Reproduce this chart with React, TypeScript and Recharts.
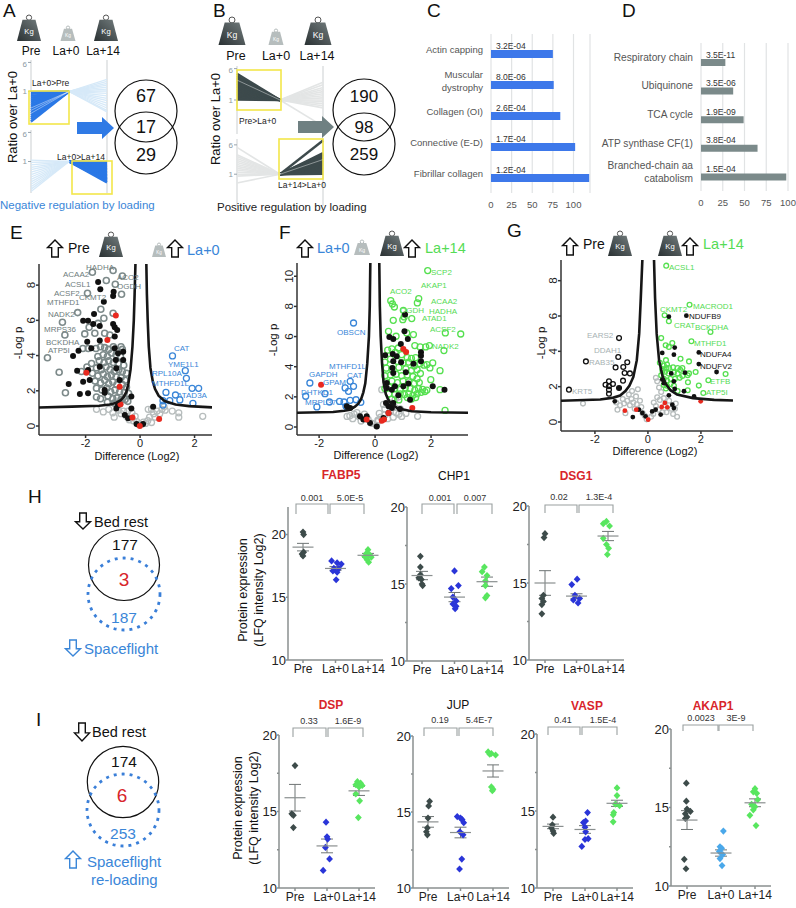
import {
  Bar,
  BarChart,
  CartesianGrid,
  ErrorBar,
  Line,
  LineChart,
  Scatter,
  ScatterChart,
  XAxis,
  YAxis,
} from "recharts";

const FONT = "'Liberation Sans', Arial, sans-serif";
const timepoints = ["Pre", "La+0", "La+14"];

// panels A, B: ratio lines
const a1Pre = [-0.1, -0.5, -0.9, -1.3, -1.7, -2.1, -2.5, -2.9, -3.3, -3.7, -4.1, -4.5, -4.9, -5.3, -5.7, -6.2];
const a1Late = [2.5, 2.1, 1.7, 1.3, 0.9, 0.5, 0.1, -0.4, -0.9, -1.4, -1.9, -2.4, -2.9, -3.4, -3.9, -4.2];
const a1PreHi = [-3.4, -3.9, -4.5];
const a2Pre = [0.3, -0.2, -0.7, -1.2, -1.7, -2.2, -2.7, -3.2, -3.7, -4.2, -4.7, -5.2, -5.7, -6.2];
const a2Late = [-0.1, -0.4, -0.7, -1, -1.3, -1.6, -1.9, -2.2, -2.5, -2.8, -3.1, -3.4, -3.7, -4, -4.3];
const b1Pre = [0.1, 0.4, 0.7, 1, 1.3, 1.6, 1.9, 2.2, 2.5, 2.8, 3.1, 3.4, 3.7, 4, 4.3, 4.6, 5];
const b1Late = [3.4, 2.9, 2.4, 2, 1.6, 1.2, 0.8, 0.4, 0, -0.3, -0.7, -1.1, -1.5, -5];
const b1PreHi = [3.8];
const b2Pre = [5.5, 4, 3.6, 3.2, 2.8, 2.4, 2, 1.6, 1.2, 0.8, 0.4, 0, -0.4, -1.8];
const b2Late = [6.9, 4.3, 4, 3.7, 3.4, 3.1, 2.8, 2.5, 2.2, 1.9, 1.6, 1.3, 1, 0.7, 0.4, 0.1];
const b2LateHi = [3];

// panels C, D: enrichment
const cTerms = ["Actin capping", "Muscular\ndystrophy", "Collagen (OI)", "Connective (E-D)", "Fibrillar collagen"];
const cScores = [75, 76, 84, 102, 119];
const cPvals = ["3.2E-04", "8.0E-06", "2.6E-04", "1.7E-04", "1.2E-04"];
const dTerms = ["Respiratory chain", "Ubiquinone", "TCA cycle", "ATP synthase CF(1)", "Branched-chain aa\ncatabolism"];
const dScores = [28, 37, 49, 65, 98];
const dPvals = ["3.5E-11", "3.5E-06", "1.9E-09", "3.8E-04", "1.5E-04"];
const enrichTicks = [0, 25, 50, 75, 100];

// panel E: volcano
const eBlack = [[-1.54,8.18],[-1.46,7.77],[-0.97,7.63],[-0.99,7.39],[-1.33,7.05],[-1.69,6.36],[-2.09,5.98],[-1.91,5.98],[-1.72,5.8],[-1.48,5.68],[-0.99,5.8],[-0.93,5.61],[-0.84,5.45],[-0.93,5.08],[-1.94,4.79],[-1.48,4.85],[-1.79,4.41],[-2.26,4.28],[-0.93,4.41],[-0.62,4.22],[-0.81,4.13],[-2.46,3.98],[-0.89,3.75],[-2.31,3.14],[-0.87,3.28],[-0.62,3.75],[-1.91,3.18],[-1.48,3.37],[-1.85,2.61],[-2.09,2.52],[-2.62,2.39],[-2.21,1.82],[-1.91,1.86],[-1.3,2.05],[-1.3,1.89],[-0.75,2.61],[-0.32,1.67],[-0.81,1.19],[-0.56,0.63],[-0.32,1],[-0.87,1],[0.48,1.1],[-0.13,0.11],[0.11,0.11],[-0.44,0.44]];
const eRed = [[-0.89,6.27],[-1.2,4.89],[-1.97,3.03],[-0.75,2.23],[-0.72,1.23],[-0.28,0.49],[-0.01,0],[0.7,0.4]];
const eGray = [[-1.75,8.73],[-0.99,8.83],[-0.65,8.52],[-1.24,8.26],[-0.91,8.05],[-0.68,7.48],[-1.93,7.54],[-2.29,6.44],[-1.44,6.63],[-0.99,6.4],[-2.85,5.89],[-1.33,6.12],[-1.87,5.61],[-1.54,5.83],[-2.76,5.17],[-2.03,5.23],[-1.66,5.27],[-1.3,5.27],[-1.11,5.17],[-3.4,3.88],[-2.97,3.05],[-2.74,1.89],[-1.62,4.4],[-1.45,4.5],[-1.3,4.45],[-1.15,4.35],[-0.98,4.5],[-0.7,4.5],[-0.65,4.35],[-1.55,3.95],[-1.35,4.05],[-1.2,3.95],[-1.05,4.15],[-0.88,4.05],[-0.72,3.95],[-1.78,3.55],[-1.5,3.7],[-1.32,3.6],[-1.15,3.7],[-0.98,3.6],[-0.8,3.55],[-0.6,3.45],[-2.15,3.1],[-1.95,3.35],[-1.6,3.3],[-1.42,3.2],[-1.25,3.35],[-1.1,3.2],[-0.95,3.1],[-0.78,3.2],[-0.65,3.1],[-0.5,3],[-1.75,3],[-1.55,2.85],[-1.35,2.95],[-1.2,2.8],[-1.05,2.9],[-0.88,2.8],[-0.7,2.75],[-0.55,2.6],[-1.65,2.55],[-1.45,2.45],[-1.3,2.6],[-1.15,2.4],[-1,2.5],[-0.85,2.35],[-0.65,2.35],[-0.5,2.2],[-1.6,2.15],[-1.4,2.05],[-1.22,2.15],[-1.08,1.95],[-0.92,2.05],[-0.75,1.95],[-0.58,1.9],[-0.42,1.85],[-1.6,1.65],[-1.45,1.55],[-1.18,1.7],[-1,1.55],[-0.85,1.6],[-0.7,1.5],[-0.55,1.5],[-0.45,1.4],[-1.2,1.35],[-0.95,1.3],[-0.75,1.25],[-2.1,4.4],[-1.9,4.4]];
const eLight = [[-1.6,0.95],[-1.35,0.8],[-1.15,0.95],[-1,0.75],[-0.95,0.5],[-0.8,0.9],[-0.7,0.7],[-0.6,0.85],[-0.5,0.55],[-0.45,0.85],[-0.4,0.35],[-0.3,0.75],[-0.25,0.3],[-0.18,0.55],[-0.12,0.25],[-0.06,0.1],[0.05,0.08],[0.12,0.22],[0.2,0.15],[0.28,0.3],[0.35,0.5],[0.42,0.2],[0.5,0.7],[0.55,0.5],[0.62,0.85],[0.72,0.7],[0.8,0.95],[0.88,1.1],[0.92,0.9],[1.18,0.85],[1.42,0.75],[1.42,0.5],[2.3,0.55],[0.3,0.95],[0.42,0.95]];
const eBlue = [[1.19,3.98],[1.66,3.14],[1.7,2.71],[1.91,2.14],[2.15,2.14],[0.95,1.91],[1.3,1.76],[1.46,1.48],[1.94,1.29],[0.84,1.44],[1.09,1.44],[0.84,1.19]];
const eCurveL = [[-3.71,1.05],[-2.5,1.1],[-1.5,1.15],[-1.1,1.22],[-0.9,1.3],[-0.72,1.45],[-0.6,1.65],[-0.5,1.95],[-0.43,2.4],[-0.35,3.2],[-0.28,4.5],[-0.23,6],[-0.2,7.5],[-0.17,9.2]];
const eCurveR = [[0.23,9.2],[0.25,7.5],[0.28,6],[0.32,4.5],[0.38,3.3],[0.47,2.5],[0.55,2.1],[0.68,1.72],[0.9,1.42],[1.3,1.22],[1.8,1.13],[2.64,1.06]];

// panel F: volcano
const fGreen = [[1.88,10.38],[0.56,8.38],[1.56,8.52],[0.62,8.16],[1.51,8.23],[0.69,7.96],[1.01,7.74],[0.65,7.08],[0.99,7.12],[1.31,7.19],[1.04,7.3],[0.48,6.35],[0.75,6.02],[1.13,6.24],[1.37,6.13],[2.51,6.24],[3.06,6.17],[1.42,5.4],[1.61,5.31],[1.81,5.31],[1.94,5.4],[2.46,5.07],[0.6,5.18],[0.83,5.24],[2.06,4.25],[1.85,4.14],[1.96,3.92],[2.32,3.74],[1.99,3.14],[2.32,2.48],[2.5,1.1],[0.45,5.1],[0.72,4.95],[0.95,4.8],[1.15,4.6],[1.3,4.55],[1.45,4.6],[1.6,4.2],[1.75,4.1],[0.35,4.3],[0.55,4.5],[0.8,4.35],[1,4.25],[1.2,4.3],[1.4,4.05],[0.4,3.9],[0.6,3.85],[0.85,3.95],[1.1,3.85],[1.3,3.75],[1.5,3.8],[1.62,3.55],[0.35,3.4],[0.55,3.45],[0.75,3.5],[0.95,3.4],[1.15,3.45],[1.35,3.35],[1.5,3.2],[0.4,3],[0.6,3.05],[0.8,2.95],[1,3.05],[1.2,3],[1.4,2.9],[1.58,2.95],[0.35,2.55],[0.5,2.65],[0.7,2.55],[0.9,2.5],[1.08,2.6],[1.25,2.55],[1.42,2.45],[1.55,2.55],[1.7,2.5],[1.85,2.45],[0.5,2.2],[0.7,2.15],[0.9,2.2],[1.05,2.15],[1.2,2.2],[1.35,2.1],[1.5,2.2],[1.65,2.3],[1.78,2.35],[1.3,1.85],[1.45,1.95],[1.15,1.95],[0.6,1.85],[0.85,1.8]];
const fBlack = [[1.07,7.46],[1.05,6.35],[0.51,5.97],[0.65,5.84],[1.17,5.84],[0.92,5.51],[0.36,4.76],[0.63,4.85],[0.77,4.69],[1.64,4.96],[1.64,4.73],[0.93,4.29],[1.37,4.2],[1.64,4.36],[0.65,4.36],[0.62,3.92],[0.65,3.58],[1.1,3.63],[0.42,2.92],[0.42,2.59],[0.6,2.48],[0.71,2.7],[1.01,2.7],[1.19,2.88],[0.83,2.1],[1.25,1.81],[2.06,2.7],[2.48,2.48],[0.39,1.59],[0.48,1.37],[0.65,1.59],[0.6,1.26],[0.89,1.19],[-1.01,1.37],[-0.89,1.26],[-0.3,0.71],[-0.42,0.49],[0.06,0.04],[-0.18,0.27],[0.48,0.93],[0.3,0.6],[-0.54,0.71]];
const fRed = [[1.01,5.18],[1.11,4.98],[-1.93,2.81],[1.33,1.26],[0.48,0.93],[-0.3,0.49],[0.24,0.42],[0.32,0.49]];
const fBlue = [[-0.77,6.9],[-0.89,3.03],[-0.77,2.7],[-1.07,2.59],[-0.95,2.37],[-2.33,2.92],[-1.79,2.21],[-2.48,2.04],[-2.08,1.33],[-1.63,1.66],[-1.27,1.7],[-1.11,1.66],[-0.89,1.77],[-0.68,1.81],[-0.51,1.64],[-1.04,1.37]];
const fLight = [[-1,0.7],[-0.9,0.75],[-0.75,0.85],[-0.65,0.95],[-0.58,0.7],[-0.5,0.4],[-0.38,0.85],[-0.25,0.5],[-0.12,0.25],[0.05,0.1],[0.12,0.4],[0.2,0.65],[0.15,0.9],[0.1,0.45],[0.35,0.8],[0.45,0.55],[0.55,1.05],[0.65,0.65],[0.75,0.95],[0.85,0.85],[0.95,0.7],[0.9,1.2],[0.7,1.3],[0.55,1.6],[0.72,1.85],[0.85,2],[0.24,2.48],[0.3,1.5],[1.1,0.9],[1.52,0.71],[-0.8,0.55],[0.35,1.2]];
const fCurveL = [[-2.79,0.95],[-1.5,1],[-1.1,1.08],[-0.9,1.15],[-0.72,1.35],[-0.6,1.55],[-0.5,1.85],[-0.42,2.3],[-0.35,2.9],[-0.28,4.2],[-0.22,6],[-0.19,8],[-0.17,10.88]];
const fCurveR = [[0.15,10.88],[0.17,8],[0.2,6],[0.25,4.2],[0.3,3],[0.38,2.2],[0.46,1.85],[0.55,1.6],[0.8,1.25],[1.3,1.05],[2,0.98],[3.32,0.95]];

// panel G: volcano
const gOpen = [[-1.09,4.75],[-1.12,3.68],[-2.34,3.43],[-0.78,3.38],[-0.93,3.11],[-1.22,3.09],[-0.88,2.77],[-0.68,2.75],[-0.94,2.34],[-2.98,1.83],[-1.6,2.11],[-1.47,2.3],[-1.32,2.15],[-1.47,2.02],[-1.47,1.83],[-1.47,1.6],[-1.09,1.92]];
const gBlack = [[0.79,5.96],[1.45,6.02],[1.92,3.94],[1.92,3.28],[2.59,2.83],[1.01,4.21],[0.54,3.91],[0.98,3.81],[0.88,2.75],[1.4,2.79],[0.98,2.3],[0.54,2.4],[0.6,2.2],[1.01,1.87],[1.36,1.74],[1.74,1.45],[0.79,1.51],[-1.25,1.17],[-1.09,1.92],[-0.34,0.7],[-0.57,0.28],[-0.21,0.51],[-0.09,0.32],[0.16,0.6],[0.29,0.7],[0.48,0.42],[0.92,0.98],[0.98,0.79]];
const gRed = [[1.99,1.17],[-0.87,0.64],[-0.44,0.7],[0.01,0.13],[0.52,0.85],[0.64,1.08],[0.73,0.83]];
const gGreen = [[0.69,8.85],[1.57,6.64],[0.63,6.04],[0.79,5.7],[2.36,5.09],[0.5,4.75],[1.64,4.57],[0.67,4.34],[0.79,4.25],[0.92,4.47],[1.23,3.58],[1.55,3.43],[2.93,2.72],[1.8,2.83],[2.28,2.36],[1.92,2.06],[2.09,1.64],[1.51,2.25],[0.45,3.35],[0.6,3.2],[0.68,3.5],[0.72,3.25],[0.8,3.05],[0.95,3.1],[0.55,3],[0.65,2.85],[0.78,2.75],[0.98,2.8],[1.12,3.05],[1.22,2.95],[1.3,3.05],[1.12,2.75],[1.3,2.6],[1.55,2.75],[0.5,2.65],[0.6,2.45],[0.72,2.35],[0.85,2.45],[1.02,2.45],[1.2,2.5],[1.5,2.65],[0.6,2.1],[0.72,2.05],[0.85,2.15],[0.98,2.05],[0.68,1.9],[1.12,1.75],[1.5,1.8],[0.55,2.9],[0.7,3.05]];
const gLight = [[-2.45,1.04],[-1.2,1.1],[-1.15,0.7],[-1.05,0.95],[-0.95,1.3],[-0.9,1.05],[-0.85,0.5],[-0.78,1.2],[-0.72,1.55],[-0.68,0.95],[-0.62,1.3],[-0.6,1.75],[-0.55,1.1],[-0.5,0.75],[-0.45,1.45],[-0.42,1],[-0.38,1.85],[-0.3,1.2],[-0.25,0.85],[-0.2,0.5],[-0.12,0.35],[-0.05,0.15],[0.12,0.3],[0.2,0.45],[0.22,1.1],[0.3,0.9],[0.35,1.4],[0.4,0.7],[0.45,1.25],[0.5,1.7],[0.55,0.55],[0.6,1.35],[0.65,0.95],[0.7,0.55],[0.8,1.2],[0.88,0.75],[0.95,0.45],[1.02,0.75],[1.05,1.05],[1.1,0.3],[0.3,2.5],[0.35,2.3],[0.42,1.95]];
const gCurveL = [[-3.28,1.2],[-1.8,1.27],[-1.3,1.38],[-1.05,1.5],[-0.85,1.75],[-0.7,2.05],[-0.55,2.55],[-0.42,3.5],[-0.33,5],[-0.27,7],[-0.21,9.17]];
const gCurveR = [[0.23,9.17],[0.27,7],[0.33,5],[0.42,3.5],[0.55,2.6],[0.68,2.15],[0.85,1.8],[1.1,1.55],[1.7,1.35],[2.5,1.25],[3.21,1.22]];

// panels H, I: protein expression, [position, log2 intensity]
const fabp5 = [
  [[0,20.2],[0.02,20],[0.02,18.6],[-0.03,18.45],[0,18.3]],
  [[0.88,17.9],[1.05,17.75],[1.18,17.65],[0.95,17.3],[1.1,17.3],[0.92,17.1],[1.05,17],[1.02,16.4]],
  [[2,18.8],[1.95,18.5],[2.05,18.4],[1.9,18.25],[2.1,18.2],[1.97,18],[2.02,17.8]],
];
const chp1 = [
  [[-0.05,16.8],[-0.05,16.1],[-0.05,15.6],[-0.1,15.4],[-0.02,15.3],[0,15],[0.02,14.9]],
  [[1,15.85],[1.12,14.9],[0.9,14.7],[0.95,14.15],[1.05,13.9],[0.95,13.7],[1.05,13.55],[1.02,13.4]],
  [[1.92,16.1],[1.85,15.8],[2,15.55],[1.95,15.2],[1.95,14.9],[2,14.25],[1.95,14.1]],
];
const dsg1 = [
  [[0,18.2],[-0.03,17.95],[-0.05,14.2],[-0.1,14],[-0.05,13.8],[-0.1,13.6],[-0.1,13]],
  [[1.02,15.25],[0.85,14.9],[0.95,14.2],[1.1,14],[0.9,13.9],[1.05,13.7]],
  [[1.95,19],[1.85,18.85],[2.05,18.7],[1.85,17.9],[1.95,17.5],[2.02,17.25],[1.98,16.85]],
];
const dsp = [
  [[0,18],[-0.1,14.85],[-0.05,14.75],[-0.05,13.95]],
  [[0.97,14.3],[1,13.35],[1.02,13.2],[0.95,12.65],[1.08,11.9],[0.88,11.15]],
  [[1.95,16.95],[2.05,16.85],[1.9,16.75],[2.1,16.7],[2,16.6],[1.9,16.15],[2.02,15.7],[1.98,14.6]],
];
const jup = [
  [[0.05,15.7],[0.02,15.4],[0,14.6],[-0.02,13.95],[-0.05,13.7],[-0.02,13.5]],
  [[0.9,14.7],[1,14.6],[1.05,14.5],[1.1,14.3],[0.98,13.7],[1.08,13.5],[1.04,11.9],[0.97,11.25]],
  [[1.85,18.95],[1.95,18.85],[1.9,18.8],[2.08,18.75],[1.95,16.65],[2,16.5],[1.98,16.4]],
];
const vasp = [
  [[0,14.6],[-0.02,14.1],[-0.05,13.9],[0,13.7],[0.02,13.55]],
  [[1.08,14.9],[1.02,14.35],[0.95,14.25],[1,13.95],[1.02,13.65],[1.1,13.2],[1,13.15],[0.9,12.7]],
  [[2,16.5],[2,16],[1.95,15.45],[2.08,15.35],[1.9,14.9],[1.88,14.75],[1.88,14.3]],
];
const akap1 = [
  [[-0.02,16.55],[-0.02,15.4],[0,14.9],[0.1,14.75],[-0.05,14.6],[0,14.4],[-0.05,14.3],[-0.08,11.7],[-0.03,11.1]],
  [[1.07,13.5],[0.97,12.5],[1.02,12.4],[0.95,12.2],[1.05,12],[0.97,11.75],[1.03,11.3]],
  [[2,16.2],[1.95,16],[2.05,15.9],[2.08,15.5],[1.9,15.2],[2,15.05],[1.95,14.85],[1.85,14.5],[2.03,13.85]],
];
const fabp5Means = [[19, 0.3], [17.3, 0.15], [18.35, 0.15]];
const chp1Means = [[15.55, 0.27], [14.15, 0.3], [15.15, 0.3]];
const dsg1Means = [[15, 0.8], [14.15, 0.15], [18.05, 0.3]];
const dspMeans = [[15.9, 0.87], [12.75, 0.45], [16.35, 0.3]];
const jupMeans = [[14.35, 0.35], [13.65, 0.35], [17.7, 0.4]];
const vaspMeans = [[14, 0.15], [13.8, 0.25], [15.5, 0.2]];
const akap1Means = [[14.2, 0.6], [12.1, 0.2], [15.3, 0.25]];

const eLabelsGray = [["HADHA",86,267],["ACAA2",63,274],["ACO2",117,277],["ACSL1",65,284],["OGDH",117,286],["ACSF2",54,293],["CKMT2",79,297],["MTHFD1",47,302],["NADK2",48,314],["MRPS36",44,329],["BCKDHA",46,342],["ATP5I",48,350]];
const eLabelsBlue = [["CAT",174,348],["YME1L1",168,364],["RPL10A",152,373],["MTHFD1L",152,383],["ATAD3A",177,395]];
const fLabelsGreen = [["SCP2",431,272],["AKAP1",421,285],["ACO2",390,291],["ACAA2",431,301],["HADHA",429,311],["OGDH",400,310],["ATAD1",422,318],["ACSF2",430,329],["NADK2",432,346]];
const fLabelsBlue = [["OBSCN",337,332],["MTHFD1L",329,366],["GAPDH",309,374],["CAT",347,375],["GPAM",323,382],["DHTKD1",301,392],["MRPL37",305,402]];
const gLabelsGray = [["EARS2",587,335],["DDAH1",594,350],["RAB35",589,362],["KRT5",572,391]];
const gLabelsGreen = [["ACSL1",669,267],["MACROD1",693,306],["CKMT2",660,309],["CRAT",674,325],["BCKDHA",695,327],["MTHFD1",694,343],["ETFB",710,381],["ATP5I",706,392]];
const gLabelsBlack = [["NDUFB9",689,316],["NDUFA4",700,354],["NDUFV2",700,366]];

const pts = (a: number[][]) => a.map(([x, y]) => ({ x, y }));

function Fan({ left, right, top, bottom, domain, before, after, beforeColor, afterColor, beforeWidth = 2.4, afterWidth = 2.4, beforeHi = [], afterHi = [] }: any) {
  const rows = timepoints.map((t, k) => {
    const row: any = { t };
    before.forEach((v: number, i: number) => { row[`b${i}`] = k === 0 ? v : k === 1 ? 0 : null; });
    after.forEach((v: number, i: number) => { row[`a${i}`] = k === 2 ? v : k === 1 ? 0 : null; });
    beforeHi.forEach((v: number, i: number) => { row[`h${i}`] = k === 0 ? v : k === 1 ? 0 : null; });
    afterHi.forEach((v: number, i: number) => { row[`j${i}`] = k === 2 ? v : k === 1 ? 0 : null; });
    return row;
  });
  const line = (key: string, stroke: string, width: number, opacity = 1) => (
    <Line key={key} dataKey={key} stroke={stroke} strokeWidth={width} strokeOpacity={opacity} dot={false} isAnimationActive={false} />
  );
  return (
    <div style={{ position: "absolute", left: left - 20, top }}>
      <LineChart width={right - left + 21} height={bottom - top} data={rows} margin={{ top: 0, right: 1, bottom: 0, left: 0 }}>
        <CartesianGrid horizontal={false} stroke="#dcdfe0" strokeWidth={1.5} />
        <XAxis dataKey="t" hide />
        <YAxis
          width={20}
          type="number"
          domain={domain}
          ticks={[-6, 0, 6]}
          allowDataOverflow
          axisLine={false}
          tickLine={{ stroke: "#9aa5ad" }}
          tickSize={3}
          tickMargin={1}
          tick={{ fill: "#8d9aa3", fontSize: 8, fontFamily: FONT }}
          tickFormatter={(v: number) => (v === 0 ? "1" : String(v))}
        />
        {after.map((_: number, i: number) => line(`a${i}`, afterColor, afterWidth))}
        {before.map((_: number, i: number) => line(`b${i}`, beforeColor, beforeWidth))}
        {beforeHi.map((_: number, i: number) => line(`h${i}`, "#ffffff", 0.6, 0.7))}
        {afterHi.map((_: number, i: number) => line(`j${i}`, "#ffffff", 0.6, 0.7))}
      </LineChart>
    </div>
  );
}

function TermTick({ x, y, payload, shift, size, gap }: any) {
  const lines = String(payload.value).split("\n");
  const yStart = y - shift - ((lines.length - 1) * (size + 2)) / 2;
  return (
    <text x={x - gap} y={yStart + size * 0.35} textAnchor="end" fill="#555" fontSize={size} fontFamily={FONT}>
      {lines.map((l, i) => (
        <tspan key={i} x={x - gap} dy={i === 0 ? 0 : size + 3}>{l}</tspan>
      ))}
    </text>
  );
}

function Enrich({ left, plotLeft, right, top, bottom, terms, scores, pvals, color, xMax, pad, shift, size, barSize }: any) {
  const rows = terms.map((term: string, i: number) => ({ term, score: scores[i] }));
  return (
    <div style={{ position: "absolute", left, top }}>
      <BarChart
        layout="vertical"
        width={right - left + 8}
        height={bottom - top + 24}
        data={rows}
        barCategoryGap="70%"
        margin={{ top: 0, right: 8, bottom: 0, left: 0 }}
      >
        <CartesianGrid horizontal={false} stroke="#e1e3e4" strokeWidth={1.2} />
        <XAxis
          type="number"
          domain={[0, xMax]}
          ticks={enrichTicks}
          height={24}
          axisLine={false}
          tickLine={false}
          tickMargin={2}
          interval={0}
          tick={{ fill: "#555", fontSize: 9.5, fontFamily: FONT }}
        />
        <YAxis
          type="category"
          dataKey="term"
          width={plotLeft - left}
          padding={{ top: pad, bottom: 0 }}
          axisLine={false}
          tickLine={false}
          interval={0}
          tick={<TermTick shift={shift} size={size} gap={0} />}
        />
        <Bar
          dataKey="score"
          fill={color}
          barSize={barSize}
          isAnimationActive={false}
          label={(p: any) => (
            <text x={p.x + 5} y={p.y - 1.5} fontSize={8.5} fill="#333" fontFamily={FONT}>{pvals[p.index]}</text>
          )}
        />
      </BarChart>
    </div>
  );
}

const openDot = (color: string, r: number, sw = 1.3) => (p: any) =>
  <circle cx={p.cx} cy={p.cy} r={r} fill="none" stroke={color} strokeWidth={sw} />;
const fullDot = (color: string, r: number) => (p: any) =>
  <circle cx={p.cx} cy={p.cy} r={r} fill={color} />;
const diamondDot = (color: string) => (p: any) => (
  <path d={`M${p.cx},${p.cy - 3.6} L${p.cx + 3.4},${p.cy} L${p.cx},${p.cy + 3.6} L${p.cx - 3.4},${p.cy} Z`} fill={color} />
);

const RotTick = ({ x, y, payload }: any) => (
  <text transform={`rotate(-90 ${x} ${y})`} x={x} y={y + 1} textAnchor="middle" fontSize={11.5} fill="#222" fontFamily={FONT}>
    {payload.value}
  </text>
);

function Volcano({ left, right, top, bottom, xDomain, yDomain, yTicks, series, curves }: any) {
  return (
    <div style={{ position: "absolute", left: left - 24, top: top - 2 }}>
      <ScatterChart
        width={right - left + 26}
        height={bottom - top + 24}
        margin={{ top: 2, right: 2, bottom: 0, left: 0 }}
      >
        <XAxis
          dataKey="x"
          type="number"
          domain={xDomain}
          ticks={[-2, 0, 2]}
          allowDataOverflow
          height={22}
          interval={0}
          stroke="#333"
          strokeWidth={1.5}
          tickSize={3}
          tickMargin={1}
          tick={{ fill: "#222", fontSize: 11, fontFamily: FONT }}
        />
        <YAxis
          dataKey="y"
          type="number"
          domain={yDomain}
          ticks={yTicks}
          allowDataOverflow
          width={24}
          interval={0}
          stroke="#333"
          strokeWidth={1.5}
          tickSize={3}
          tickMargin={2}
          tick={<RotTick />}
        />
        {series.map((s: any, i: number) => (
          <Scatter key={i} data={pts(s.data)} shape={s.shape} isAnimationActive={false} />
        ))}
        {curves.map((c: number[][], i: number) => (
          <Scatter
            key={`c${i}`}
            data={pts(c)}
            line={{ stroke: "#161616", strokeWidth: 2.6 }}
            shape={() => <g />}
            isAnimationActive={false}
          />
        ))}
      </ScatterChart>
    </div>
  );
}

const MeanBar = (p: any) => <line x1={p.cx - 10.5} x2={p.cx + 10.5} y1={p.cy} y2={p.cy} stroke="#8a8f8f" strokeWidth={1.2} />;

function DotPanel({ axisX, right, top, bottom, xFirst, xLast, yTop = 20, minor = true, groups, means, lateColor = "#2a35d8" }: any) {
  const unit = (xLast - xFirst) / 2;
  const xDomain = [(axisX - xFirst) / unit, 2 + (right - xLast) / unit];
  const colors = ["#3d4b4a", lateColor, "#58e65f"];
  const ticks = minor ? [10, 12.5, 15, 17.5, 20] : [10, 15, 20];
  return (
    <div style={{ position: "absolute", left: axisX - 30, top: top - 10 }}>
      <ScatterChart width={right - axisX + 46} height={bottom - top + 10 + 24} margin={{ top: 10, right: 16, bottom: 0, left: 0 }}>
        <XAxis
          dataKey="x"
          type="number"
          domain={xDomain}
          ticks={[0, 1, 2]}
          allowDataOverflow
          height={24}
          interval={0}
          stroke="#8a8f8f"
          strokeWidth={1.5}
          tickSize={3}
          tickMargin={1}
          tick={{ fill: "#222", fontSize: 12, fontFamily: FONT }}
          tickFormatter={(v: number) => timepoints[v]}
        />
        <YAxis
          dataKey="y"
          type="number"
          domain={[10, yTop]}
          ticks={ticks}
          allowDataOverflow
          width={30}
          interval={0}
          stroke="#8a8f8f"
          strokeWidth={1.5}
          tickSize={2}
          tickMargin={0}
          tick={{ fill: "#222", fontSize: 13, fontFamily: FONT }}
          tickFormatter={(v: number) => (v % 5 === 0 ? String(v) : "")}
        />
        {groups.map((g: number[][], i: number) => (
          <Scatter key={i} data={pts(g)} shape={diamondDot(colors[i])} isAnimationActive={false} />
        ))}
        <Scatter
          data={means.map(([y, err]: number[], i: number) => ({ x: i, y, err }))}
          shape={MeanBar}
          isAnimationActive={false}
        >
          <ErrorBar dataKey="err" direction="y" width={6} stroke="#6f7575" strokeWidth={1} />
        </Scatter>
      </ScatterChart>
    </div>
  );
}

const T = ({ x, y, s, size = 12, fill = "#111", anchor = "start", bold = false }: any) => (
  <text x={x} y={y} fontSize={size} fill={fill} textAnchor={anchor} fontWeight={bold ? 700 : 400} fontFamily={FONT} dominantBaseline="central">
    {s}
  </text>
);

function Weight({ cx, ringTop, base, w, light = false }: any) {
  const r = w * 0.11;
  const ty = ringTop + 2 * r - 0.5;
  return (
    <g>
      <circle cx={cx} cy={ringTop + r} r={r} fill="none" stroke={light ? "#b5bcbc" : "#555"} strokeWidth={1} />
      <path
        d={`M${cx - w * 0.27},${ty} L${cx + w * 0.27},${ty} L${cx + w / 2},${base} L${cx - w / 2},${base} Z`}
        fill={light ? "#b6bdbd" : "url(#wg)"}
      />
      <text x={cx} y={(ty + base) / 2 + 1} textAnchor="middle" dominantBaseline="central" fontSize={w * 0.32} fill="#fff" fontFamily={FONT}>Kg</text>
    </g>
  );
}

function HollowArrow({ cx, top, bottom, w, color = "#111", down = false }: any) {
  const h = bottom - top;
  const hw = w / 2;
  const sw = w * 0.22;
  const head = h * 0.45;
  const d = down
    ? `M${cx - sw},${top} L${cx + sw},${top} L${cx + sw},${bottom - head} L${cx + hw},${bottom - head} L${cx},${bottom} L${cx - hw},${bottom - head} L${cx - sw},${bottom - head} Z`
    : `M${cx - sw},${bottom} L${cx + sw},${bottom} L${cx + sw},${top + head} L${cx + hw},${top + head} L${cx},${top} L${cx - hw},${top + head} L${cx - sw},${top + head} Z`;
  return <path d={d} fill="#fff" stroke={color} strokeWidth={1.4} />;
}

const BigArrow = ({ x1, x2, y, color }: any) => (
  <path
    d={`M${x1},${y - 6} L${x2 - 12},${y - 6} L${x2 - 12},${y - 11} L${x2},${y} L${x2 - 12},${y + 11} L${x2 - 12},${y + 6} L${x1},${y + 6} Z`}
    fill={color}
  />
);

const Box = ({ x1, x2, y1, y2 }: any) => (
  <rect x={x1} y={y1} width={x2 - x1} height={y2 - y1} fill="none" stroke="#f3e64a" strokeWidth={1.6} />
);

const Bracket = ({ x1, x2, x3, x4, top, bot, a, b, ax, bx, ty }: any) => (
  <g>
    <path d={`M${x1},${bot} V${top} H${x2} V${bot}`} fill="none" stroke="#9aa0a0" strokeWidth={1.1} />
    <path d={`M${x3},${bot} V${top} H${x4} V${bot}`} fill="none" stroke="#9aa0a0" strokeWidth={1.1} />
    <T x={ax} y={ty} s={a} size={9} fill="#333" anchor="middle" />
    <T x={bx} y={ty} s={b} size={9} fill="#333" anchor="middle" />
  </g>
);

function Labels({ items, fill }: any) {
  return (
    <>
      {items.map(([s, x, y]: any) => (
        <T key={`${s}${x}`} x={x} y={y} s={s} size={8} fill={fill} />
      ))}
    </>
  );
}

const BLUE = "#3a86d8";
const GREEN = "#55dc55";
const RED = "#d8252b";

function Overlay() {
  return (
    <svg width={796} height={908} style={{ position: "absolute", left: 0, top: 0, pointerEvents: "none" }}>
      <defs>
        <linearGradient id="wg" x1="0" y1="1" x2="1" y2="0">
          <stop offset="0" stopColor="#2a3133" />
          <stop offset="1" stopColor="#737d7e" />
        </linearGradient>
      </defs>

      {/* panel letters */}
      <T x={3} y={10} s="A" size={19} />
      <T x={213} y={10} s="B" size={19} />
      <T x={427} y={10} s="C" size={19} />
      <T x={622} y={10} s="D" size={19} />
      <T x={10} y={232} s="E" size={19} />
      <T x={279} y={232} s="F" size={19} />
      <T x={507} y={230} s="G" size={19} />
      <T x={28} y={496} s="H" size={19} />
      <T x={36} y={719} s="I" size={19} />

      {/* A */}
      <Weight cx={29} ringTop={15} base={41} w={24} />
      <Weight cx={68} ringTop={26} base={41} w={15} light />
      <Weight cx={106} ringTop={15} base={41} w={24} />
      <T x={31} y={51} s="Pre" size={12} anchor="middle" />
      <T x={66} y={51} s="La+0" size={12} anchor="middle" />
      <T x={103} y={51} s="La+14" size={12} anchor="middle" />
      <g transform="rotate(-90 12 117)"><T x={12} y={117} s="Ratio over La+0" size={13} anchor="middle" /></g>
      <Box x1={29} x2={69} y1={91} y2={124} />
      <Box x1={72} x2={112} y1={161} y2={194} />
      <T x={32} y={83} s="La+0>Pre" size={8.5} fill="#222" />
      <T x={57} y={157} s="La+0>La+14" size={8.5} fill="#222" />
      <BigArrow x1={77} x2={114} y={128} color="#2f7ae5" />
      <circle cx={146} cy={111} r={31} fill="none" stroke="#111" strokeWidth={1.2} />
      <circle cx={146} cy={143} r={31} fill="none" stroke="#111" strokeWidth={1.2} />
      <T x={146} y={96} s="67" size={18} anchor="middle" />
      <T x={146} y={127} s="17" size={18} anchor="middle" />
      <T x={146} y={155} s="29" size={18} anchor="middle" />
      <T x={0} y={205} s="Negative regulation by loading" size={11.5} fill={BLUE} />

      {/* B */}
      <Weight cx={232} ringTop={17} base={45} w={27} />
      <Weight cx={276} ringTop={29} base={45} w={15} light />
      <Weight cx={318} ringTop={17} base={45} w={27} />
      <T x={236} y={56} s="Pre" size={12.5} anchor="middle" />
      <T x={276} y={56} s="La+0" size={12.5} anchor="middle" />
      <T x={317} y={56} s="La+14" size={12.5} anchor="middle" />
      <g transform="rotate(-90 215 119)"><T x={215} y={119} s="Ratio over La+0" size={13} anchor="middle" /></g>
      <Box x1={237} x2={281} y1={70} y2={110} />
      <Box x1={279} x2={323} y1={139} y2={179} />
      <T x={239} y={121} s="Pre>La+0" size={8.5} fill="#222" />
      <T x={278} y={185} s="La+14>La+0" size={8.5} fill="#222" />
      <BigArrow x1={298} x2={334} y={127} color="#6f8082" />
      <circle cx={364} cy={110} r={31} fill="none" stroke="#111" strokeWidth={1.2} />
      <circle cx={364} cy={144} r={31} fill="none" stroke="#111" strokeWidth={1.2} />
      <T x={364} y={96} s="190" size={17} anchor="middle" />
      <T x={364} y={127} s="98" size={17} anchor="middle" />
      <T x={364} y={154} s="259" size={17} anchor="middle" />
      <T x={217} y={207} s="Positive regulation by loading" size={11.5} fill="#222" />

      {/* E header */}
      <HollowArrow cx={55} top={240} bottom={257} w={15} />
      <T x={68} y={248} s="Pre" size={14} />
      <Weight cx={111} ringTop={232} base={257} w={24} />
      <Weight cx={159} ringTop={243} base={257} w={14} light />
      <HollowArrow cx={175} top={240} bottom={257} w={15} />
      <T x={187} y={250} s="La+0" size={14.5} fill={BLUE} />
      <g transform="rotate(-90 18 343)"><T x={18} y={343} s="-Log p" size={11.5} anchor="middle" /></g>
      <T x={137} y={456} s="Difference (Log2)" size={11} anchor="middle" />
      <Labels items={eLabelsGray} fill="#6e7c7c" />
      <Labels items={eLabelsBlue} fill={BLUE} />

      {/* F header */}
      <HollowArrow cx={305} top={240} bottom={257} w={15} />
      <T x={317} y={248} s="La+0" size={14.5} fill={BLUE} />
      <Weight cx={362} ringTop={240} base={255} w={16} light />
      <Weight cx={392} ringTop={231} base={256} w={24} />
      <HollowArrow cx={412} top={240} bottom={257} w={15} />
      <T x={425} y={248} s="La+14" size={14.5} fill={GREEN} />
      <g transform="rotate(-90 273 340)"><T x={273} y={340} s="-Log p" size={11.5} anchor="middle" /></g>
      <T x={376} y={455} s="Difference (Log2)" size={11} anchor="middle" />
      <Labels items={fLabelsGreen} fill={GREEN} />
      <Labels items={fLabelsBlue} fill={BLUE} />

      {/* G header */}
      <HollowArrow cx={570} top={238} bottom={255} w={15} />
      <T x={583} y={244} s="Pre" size={14} />
      <Weight cx={620} ringTop={231} base={256} w={24} />
      <Weight cx={670} ringTop={231} base={256} w={24} />
      <HollowArrow cx={690} top={238} bottom={255} w={15} />
      <T x={703} y={244} s="La+14" size={14.5} fill={GREEN} />
      <g transform="rotate(-90 541 343)"><T x={541} y={343} s="-Log p" size={11.5} anchor="middle" /></g>
      <T x={655} y={451} s="Difference (Log2)" size={11} anchor="middle" />
      <Labels items={gLabelsGray} fill="#a7b2b4" />
      <Labels items={gLabelsGreen} fill={GREEN} />
      <Labels items={gLabelsBlack} fill="#111" />

      {/* H venn */}
      <HollowArrow cx={83} top={513} bottom={529} w={15} down />
      <T x={94} y={522} s="Bed rest" size={14.5} />
      <circle cx={124} cy={565} r={35.5} fill="none" stroke="#111" strokeWidth={1.2} />
      <circle cx={124} cy={594} r={36} fill="none" stroke="#3a7fd8" strokeWidth={2.8} strokeDasharray="3 5" />
      <T x={125} y={544} s="177" size={15.5} anchor="middle" />
      <T x={124} y={579} s="3" size={19} anchor="middle" fill={RED} />
      <T x={124} y={617} s="187" size={15.5} anchor="middle" fill={BLUE} />
      <HollowArrow cx={73} top={640} bottom={656} w={15} color={BLUE} down />
      <T x={84} y={648} s="Spaceflight" size={15} fill={BLUE} />

      {/* I venn */}
      <HollowArrow cx={82} top={723} bottom={741} w={15} down />
      <T x={92} y={732} s="Bed rest" size={14.5} />
      <circle cx={123} cy={782} r={35.7} fill="none" stroke="#111" strokeWidth={1.2} />
      <circle cx={123} cy={810} r={36} fill="none" stroke="#3a7fd8" strokeWidth={2.8} strokeDasharray="3 5" />
      <T x={124} y={761} s="174" size={15.5} anchor="middle" />
      <T x={122} y={795} s="6" size={19} anchor="middle" fill={RED} />
      <T x={123} y={833} s="253" size={15.5} anchor="middle" fill={BLUE} />
      <HollowArrow cx={73} top={851} bottom={868} w={15} color={BLUE} />
      <T x={87} y={861} s="Spaceflight" size={15} fill={BLUE} />
      <T x={91} y={879} s="re-loading" size={15} fill={BLUE} />

      {/* H plots */}
      <g transform="rotate(-90 243 590)"><T x={243} y={590} s="Protein expression" size={12.5} anchor="middle" /></g>
      <g transform="rotate(-90 259 590)"><T x={259} y={590} s="(LFQ intensity Log2)" size={12.5} anchor="middle" /></g>
      <T x={341} y={475} s="FABP5" size={12} fill={RED} anchor="middle" bold />
      <T x={454} y={476} s="CHP1" size={12} anchor="middle" />
      <T x={576} y={476} s="DSG1" size={12} fill={RED} anchor="middle" bold />
      <Bracket x1={296} x2={328} x3={330} x4={364} top={504} bot={514} a="0.001" b="5.0E-5" ax={312} bx={350} ty={498} />
      <Bracket x1={422} x2={454} x3={457} x4={492} top={504} bot={514} a="0.001" b="0.007" ax={440} bx={475} ty={498} />
      <Bracket x1={545} x2={577} x3={579} x4={613} top={505} bot={513} a="0.02" b="1.3E-4" ax={559} bx={599} ty={497} />

      {/* I plots */}
      <g transform="rotate(-90 238 808)"><T x={238} y={808} s="Protein expression" size={12.5} anchor="middle" /></g>
      <g transform="rotate(-90 254 808)"><T x={254} y={808} s="(LFQ intensity Log2)" size={12.5} anchor="middle" /></g>
      <T x={331} y={705} s="DSP" size={12} fill={RED} anchor="middle" bold />
      <T x={458} y={705} s="JUP" size={12} anchor="middle" />
      <T x={587} y={706} s="VASP" size={12} fill={RED} anchor="middle" bold />
      <T x={713} y={706} s="AKAP1" size={12} fill={RED} anchor="middle" bold />
      <Bracket x1={293} x2={326} x3={328} x4={363} top={728} bot={737} a="0.33" b="1.6E-9" ax={309} bx={348} ty={721} />
      <Bracket x1={424} x2={457} x3={459} x4={493} top={728} bot={736} a="0.19" b="5.4E-7" ax={440} bx={479} ty={720} />
      <Bracket x1={548} x2={580} x3={582} x4={617} top={727} bot={735} a="0.41" b="1.5E-4" ax={563} bx={603} ty={720} />
      <Bracket x1={683} x2={718} x3={719} x4={753} top={725} bot={731} a="0.0023" b="3E-9" ax={701} bx={736} ty={718} />
    </svg>
  );
}

export default function App() {
  return (
    <div style={{ position: "absolute", left: 0, top: 0, width: 796, height: 908, background: "#fff", overflow: "hidden" }}>
      <Fan left={31} right={107} top={60} bottom={123} domain={[-6.5, 6.5]} before={a1Pre} after={a1Late} beforeColor="#2a78e6" afterColor="#d6e9f8" afterWidth={1.3} beforeHi={a1PreHi} />
      <Fan left={31} right={107} top={130} bottom={193} domain={[-6.5, 6.5]} before={a2Pre} after={a2Late} beforeColor="#d6e9f8" beforeWidth={1.3} afterColor="#2a78e6" />
      <Fan left={237} right={323} top={66} bottom={134} domain={[-6.5, 6.5]} before={b1Pre} after={b1Late} beforeColor="#3d4a4c" afterColor="#e3e5e5" afterWidth={1.6} beforeHi={b1PreHi} />
      <Fan left={237} right={323} top={139} bottom={206} domain={[-6.5, 7.2]} before={b2Pre} after={b2Late} beforeColor="#e3e5e5" beforeWidth={1.6} afterColor="#3d4a4c" afterHi={b2LateHi} />

      <Enrich left={400} plotLeft={491} right={590} top={34} bottom={193} terms={cTerms} scores={cScores} pvals={cPvals} color="#3d78ea" xMax={120} pad={4} shift={4} size={9.5} barSize={8} />
      <Enrich left={580} plotLeft={701} right={788} top={43} bottom={191} terms={dTerms} scores={dScores} pvals={dPvals} color="#7b8a8a" xMax={100} pad={5} shift={5} size={10.2} barSize={7} />

      <Volcano
        left={39} right={212} top={264} bottom={435}
        xDomain={[-3.71, 2.64]} yDomain={[-0.51, 9.2]} yTicks={[0, 2, 4, 6, 8]}
        series={[
          { data: eLight, shape: openDot("#b7bdbd", 3) },
          { data: eGray, shape: openDot("#7d8a8a", 3, 1.6) },
          { data: eBlue, shape: openDot("#3a86d8", 3) },
          { data: eBlack, shape: fullDot("#111", 3) },
          { data: eRed, shape: fullDot("#e8291f", 3) },
        ]}
        curves={[eCurveL, eCurveR]}
      />
      <Volcano
        left={297} right={468} top={263} bottom={435}
        xDomain={[-2.79, 3.32]} yDomain={[-0.53, 10.88]} yTicks={[0, 2, 4, 6, 8, 10]}
        series={[
          { data: fLight, shape: openDot("#b7bdbd", 3) },
          { data: fGreen, shape: openDot("#55e04f", 3) },
          { data: fBlue, shape: openDot("#3a86d8", 3) },
          { data: fBlack, shape: fullDot("#111", 3) },
          { data: fRed, shape: fullDot("#e8291f", 3) },
        ]}
        curves={[fCurveL, fCurveR]}
      />
      <Volcano
        left={561} right={733} top={260} bottom={431}
        xDomain={[-3.28, 3.21]} yDomain={[-0.51, 9.17]} yTicks={[0, 2, 4, 6, 8]}
        series={[
          { data: gLight, shape: openDot("#b7bdbd", 2.4) },
          { data: gGreen, shape: openDot("#55e04f", 2.4) },
          { data: gOpen, shape: openDot("#111", 2.4) },
          { data: gBlack, shape: fullDot("#111", 2.4) },
          { data: gRed, shape: fullDot("#e8291f", 2.4) },
        ]}
        curves={[gCurveL, gCurveR]}
      />

      <DotPanel axisX={288} right={383} top={507} bottom={660} xFirst={303} xLast={368} yTop={22.2} minor={false} groups={fabp5} means={fabp5Means} />
      <DotPanel axisX={407} right={502} top={507} bottom={661} xFirst={422} xLast={487} groups={chp1} means={chp1Means} />
      <DotPanel axisX={529} right={624} top={506} bottom={660} xFirst={545} xLast={608} groups={dsg1} means={dsg1Means} />
      <DotPanel axisX={279} right={375} top={735} bottom={888} xFirst={295} xLast={359} groups={dsp} means={dspMeans} />
      <DotPanel axisX={413} right={509} top={736} bottom={888} xFirst={428} xLast={493} groups={jup} means={jupMeans} />
      <DotPanel axisX={537} right={633} top={734} bottom={888} xFirst={553} xLast={617} groups={vasp} means={vaspMeans} />
      <DotPanel axisX={671} right={771} top={729} bottom={886} xFirst={687} xLast={755} groups={akap1} means={akap1Means} lateColor="#4aa8ea" />

      <Overlay />
    </div>
  );
}
